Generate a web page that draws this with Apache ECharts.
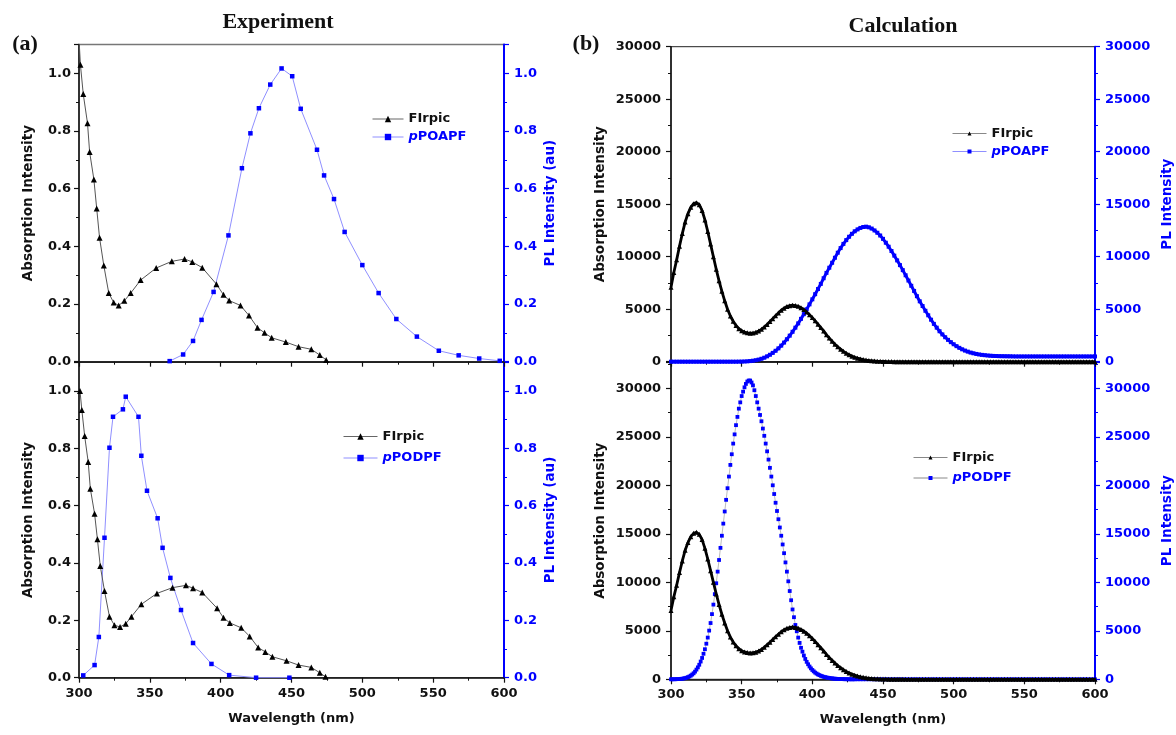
<!DOCTYPE html>
<html><head><meta charset="utf-8">
<script src="https://cdn.jsdelivr.net/npm/echarts@6/dist/echarts.min.js"></script>
<style>html,body{margin:0;padding:0;background:#fff}#c{width:1176px;height:735px}</style>
</head><body><div id="c"></div>
<script>
// ---------- (a) Experiment, top: FIrpic / pPOAPF ----------
const aTopFirWl = [300,301,303,306,307.5,310.5,312.5,314.5,317.5,321,324.5,328,332,336.5,343.5,354.5,365.5,374.5,380,387,397,402,406,414,420,426,431,436,446,455,464,470,474.5];
const aTopFirVal = [1.12,1.03,0.928,0.827,0.727,0.632,0.531,0.43,0.334,0.238,0.205,0.195,0.211,0.238,0.283,0.325,0.348,0.356,0.346,0.326,0.269,0.232,0.212,0.195,0.16,0.118,0.1,0.083,0.068,0.052,0.043,0.023,0.006];
const aTopPlWl = [364,373.5,380.5,386.5,395,405.5,415,421,427,435,443,450.5,456.5,468,473,480,487.5,500,511.5,524,538.5,554,568,582.5,597];
const aTopPlVal = [0.002,0.025,0.072,0.145,0.242,0.438,0.671,0.792,0.879,0.961,1.017,0.99,0.877,0.735,0.646,0.564,0.45,0.335,0.238,0.148,0.087,0.038,0.022,0.011,0.003];
// ---------- (a) Experiment, bottom: FIrpic / pPODPF ----------
const aBotFirWl = [300.7,302,304,306.5,308,311,313,315,318,321.5,325,329,333,337,344,355,366,375.5,380.5,387,397.5,402,406.5,414.5,420.5,426.5,431.5,436.5,446.5,455,464,470,474];
const aBotFirVal = [1.0,0.934,0.843,0.752,0.659,0.572,0.483,0.39,0.302,0.213,0.183,0.177,0.188,0.213,0.256,0.294,0.314,0.322,0.312,0.297,0.242,0.209,0.191,0.174,0.144,0.105,0.09,0.073,0.059,0.044,0.036,0.017,0.003];
const aBotPlWl = [303,311,314,318,321.5,324,331,333,342,344,348,355.5,359,364.5,372,380.5,393.5,406,425,448.5];
const aBotPlVal = [0.008,0.044,0.142,0.488,0.802,0.91,0.936,0.98,0.91,0.774,0.652,0.556,0.453,0.348,0.236,0.121,0.048,0.009,0.0,0.0];

// ---------- (b) Calculation: wavelength grid 300..600 nm, step 2 ----------
function range(a, b, s) { const r = []; for (let v = a; v <= b + 1e-9; v += s) r.push(v); return r; }
const calcWl = range(300, 600, 2);
const calcFirVal = [
 7100,8500,9700,11000,12200,13300,14100,14700,15050,15150,
 14950,14400,13500,12400,11200,10000,8800,7700,6700,5800,
 5000,4350,3850,3450,3150,2950,2820,2750,2720,2730,
 2800,2920,3080,3300,3550,3820,4100,4380,4650,4900,
 5100,5250,5340,5380,5350,5270,5140,4960,4740,4480,
 4200,3890,3570,3250,2930,2560,2250,1950,1670,1420,
 1190,990,810,660,530,425,335,262,203,155,
 118,88,66,49,36,26,19,14,10,7,
 5,
 4,3,2,2,1,1,1,1,0,0,
 0,0,0,0,0,0,0,0,0,0, 0,0,0,0,0,0,0,0,0,0, 0,0,0,0,0,0,0,0,0,0,
 0,0,0,0,0,0,0,0,0,0, 0,0,0,0,0,0,0,0,0,0, 0,0,0,0,0,0,0,0,0,0
];
const calcPoapfVal = [
 0,0,0,0,0,0,0,0,0,0, 0,0,0,0,0,0,0,0,0,0, 0,0,0,0,
 5,10,20,35,60,95,140,200,280,380,
 510,660,840,1040,1270,1530,1820,2140,2480,2850,
 3240,3650,4080,4530,4990,5460,5940,6430,6920,7410,
 7950,8460,8950,9420,9900,10380,10820,11220,11580,11900,
 12180,12420,12600,12740,12830,12860,12800,12680,12500,12280,
 12020,11700,11330,10950,10540,10100,9650,9200,8720,8230,
 7730,7230,6740,6240,5750,5300,4850,4420,4000,3600,
 3240,2900,2600,2330,2080,1860,1660,1480,1320,1180,
 1060,960,870,800,740,690,650,620,590,570,
 550,540,
 530,525,520,515,510,505,500,500,500,500, 500,500,500,500,500,500,500,500,500,500,
 500,500,500,500,500,500,500,500,500,500, 500,500,500,500,500
];
// pPODPF calc: 300..430 step 1, then 432..600 step 2
const podpfWl = range(300, 430, 1).concat(range(432, 600, 2));
const podpfVal = [
 0,2,5,8,15,20,30,45,60,90,
 120,165,220,290,380,490,620,790,1000,1230,
 1500,1830,2200,2630,3100,3670,4300,5020,5800,6720,
 7700,8780,9900,11100,12300,13550,14800,16050,17300,18500,
 19700,20900,22100,23200,24300,25250,26200,27050,27900,28550,
 29200,29650,30100,30450,30700,30800,30800,30600,30300,29800,
 29200,28550,27900,27250,26600,25850,25100,24300,23500,22650,
 21800,20900,20000,19100,18200,17350,16500,15650,14800,13900,
 13000,12050,11100,10100,9100,8150,7200,6400,5600,4950,
 4300,3750,3250,2850,2450,2100,1800,1550,1320,1130,
 960,820,690,590,500,430,360,310,260,220,
 190,160,130,110,90,75,60,50,40,32,
 25,20,15,11,8,6,4,3,2,1,
 0,
 0,0,0,0,0,0,0,0,0,0, 0,0,0,0,0,0,0,0,0,0, 0,0,0,0,0,0,0,0,0,0,
 0,0,0,0,0,0,0,0,0,0, 0,0,0,0,0,0,0,0,0,0, 0,0,0,0,0,0,0,0,0,0,
 0,0,0,0,0,0,0,0,0,0, 0,0,0,0,0,0,0,0,0,0, 0,0,0,0,0
];

const LABELS = {
  aTopFir:'FIrpic', aTopPl:'{ib|p}POAPF', aBotFir:'FIrpic', aBotPl:'{ib|p}PODPF',
  bTopFir:'FIrpic', bTopPl:'{ib|p}POAPF', bBotFir:'FIrpic', bBotPl:'{ib|p}PODPF'
};
const BLUE = '#0000ff';
const FONT = 'DejaVu Sans';

function zip(x, y) { return x.map((v, i) => [v, y[i]]); }

function xAx(grid, showLabels) {
  return {
    type:'value', gridIndex:grid, min:300, max:600, interval:50,
    axisLine:{show:true, onZero:false, lineStyle:{color:'#111', width:1.5}},
    axisTick:{show:true, length:5, lineStyle:{color:'#111', width:1.2}},
    minorTick:{show:true, splitNumber:2, length:3, lineStyle:{color:'#111', width:1}},
    splitLine:{show:false},
    axisLabel:{show:showLabels, margin:9, color:'#111', fontFamily:FONT, fontWeight:'bold', fontSize:13},
    name: showLabels ? 'Wavelength (nm)' : '', nameLocation:'middle', nameGap:34,
    nameTextStyle:{color:'#111', fontFamily:FONT, fontWeight:'bold', fontSize:13}
  };
}
function yAx(grid, pos, max, interval, color, name, gap, margin, fmt) {
  return {
    type:'value', gridIndex:grid, position:pos, min:0, max:max, interval:interval,
    axisLine:{show:true, onZero:false, lineStyle:{color:color, width: pos === 'right' ? 2 : 1.5}},
    axisTick:{show:true, length:5, lineStyle:{color:color, width:1.2}},
    minorTick:{show:true, splitNumber:2, length:3, lineStyle:{color:color, width:1}},
    splitLine:{show:false},
    axisLabel:{color:color, fontFamily:FONT, fontWeight:'bold', fontSize:13, margin:margin,
               formatter:fmt, showMaxLabel: (Math.abs(max / interval - Math.round(max / interval)) < 1e-6)},
    name:name, nameLocation:'middle', nameGap:gap,
    nameTextStyle:{color:color, fontFamily:FONT, fontWeight:'bold', fontSize:13.5}
  };
}
const f1 = v => v.toFixed(1);
const f0 = v => String(Math.round(v));

function legend(left, top, gap, iw, ih, names, lineCols) {
  return {
    orient:'vertical', left:left, top:top, itemGap:gap, itemWidth:iw, itemHeight:ih,
    selectedMode:false, padding:0,
    formatter: n => LABELS[n],
    textStyle:{fontFamily:FONT, fontWeight:'bold', fontSize:13,
      rich:{ib:{fontFamily:FONT, fontWeight:'bold', fontStyle:'italic', fontSize:13, color:BLUE}}},
    data:[
      {name:names[0], textStyle:{color:'#111'}, itemStyle:{color:'#000'}, lineStyle:{color:lineCols[0], width:1}},
      {name:names[1], textStyle:{color:BLUE}, itemStyle:{color:BLUE}, lineStyle:{color:lineCols[1], width:1}}
    ]
  };
}

const common = {type:'line', silent:true, clip:true, emphasis:{disabled:true}, animation:false};

const option = {
  animation:false,
  backgroundColor:'#fff',
  grid:[
    {left:79, top:44.5, width:425, height:317.2, show:true, borderColor:'#777', borderWidth:1.5, backgroundColor:'transparent'},
    {left:79, top:362.3, width:425, height:315.4, show:true, borderColor:'#555', borderWidth:1.2, backgroundColor:'transparent'},
    {left:671, top:46.7, width:424, height:315, show:true, borderColor:'#222', borderWidth:1, backgroundColor:'transparent'},
    {left:671, top:362.1, width:424, height:317.2, show:true, borderColor:'#222', borderWidth:1, backgroundColor:'transparent'}
  ],
  xAxis:[ xAx(0,false), xAx(1,true), xAx(2,false), xAx(3,true) ],
  yAxis:[
    yAx(0,'left',1.1,0.2,'#111','Absorption Intensity',44,8,f1),
    yAx(0,'right',1.1,0.2,BLUE,'PL Intensity (au)',39,10,f1),
    yAx(1,'left',1.1,0.2,'#111','Absorption Intensity',44,8,f1),
    yAx(1,'right',1.1,0.2,BLUE,'PL Intensity (au)',39,10,f1),
    yAx(2,'left',30000,5000,'#111','Absorption Intensity',64,10,f0),
    yAx(2,'right',30000,5000,BLUE,'PL Intensity',65,10,f0),
    yAx(3,'left',32700,5000,'#111','Absorption Intensity',64,10,f0),
    yAx(3,'right',32700,5000,BLUE,'PL Intensity',65,10,f0)
  ],
  legend:[
    legend(372, 112.5, 5, 31, 8, ['aTopFir','aTopPl'], ['#666','#8f8fff']),
    legend(343, 430, 8.5, 34, 8, ['aBotFir','aBotPl'], ['#666','#8f8fff']),
    legend(952, 127, 5, 34, 5, ['bTopFir','bTopPl'], ['#888','#8f8fff']),
    legend(913, 451, 7.5, 34, 5, ['bBotFir','bBotPl'], ['#888','#888'])
  ],
  graphic:[
    {type:'text', x:278, y:22, silent:true, style:{text:'Experiment', font:'bold 22px "Liberation Serif"', fill:'#111', align:'center', verticalAlign:'middle'}},
    {type:'text', x:903, y:26, silent:true, style:{text:'Calculation', font:'bold 22px "Liberation Serif"', fill:'#111', align:'center', verticalAlign:'middle'}},
    {type:'text', x:25, y:44, silent:true, style:{text:'(a)', font:'bold 22px "Liberation Serif"', fill:'#111', align:'center', verticalAlign:'middle'}},
    {type:'text', x:586, y:44, silent:true, style:{text:'(b)', font:'bold 22px "Liberation Serif"', fill:'#111', align:'center', verticalAlign:'middle'}}
  ],
  series:[
    Object.assign({}, common, {name:'aTopFir', xAxisIndex:0, yAxisIndex:0, data:zip(aTopFirWl,aTopFirVal),
      symbol:'triangle', symbolSize:6, itemStyle:{color:'#000'}, lineStyle:{color:'#555', width:1}, z:3}),
    Object.assign({}, common, {name:'aTopPl', xAxisIndex:0, yAxisIndex:1, data:zip(aTopPlWl,aTopPlVal),
      symbol:'rect', symbolSize:4.5, itemStyle:{color:BLUE}, lineStyle:{color:'#8f8fff', width:1}, z:2}),
    Object.assign({}, common, {name:'aBotFir', xAxisIndex:1, yAxisIndex:2, data:zip(aBotFirWl,aBotFirVal),
      symbol:'triangle', symbolSize:6, itemStyle:{color:'#000'}, lineStyle:{color:'#555', width:1}, z:3}),
    Object.assign({}, common, {name:'aBotPl', xAxisIndex:1, yAxisIndex:3, data:zip(aBotPlWl,aBotPlVal),
      symbol:'rect', symbolSize:4.5, itemStyle:{color:BLUE}, lineStyle:{color:'#8f8fff', width:1}, z:2}),
    Object.assign({}, common, {name:'bTopFir', xAxisIndex:2, yAxisIndex:4, data:zip(calcWl,calcFirVal),
      symbol:'triangle', symbolSize:5, itemStyle:{color:'#000'}, lineStyle:{color:'#000', width:2.8}, z:3}),
    Object.assign({}, common, {name:'bTopPl', xAxisIndex:2, yAxisIndex:5, data:zip(calcWl,calcPoapfVal),
      symbol:'rect', symbolSize:4, itemStyle:{color:BLUE}, lineStyle:{color:BLUE, width:3}, z:2}),
    Object.assign({}, common, {name:'bBotFir', xAxisIndex:3, yAxisIndex:6, data:zip(calcWl,calcFirVal),
      symbol:'triangle', symbolSize:5, itemStyle:{color:'#000'}, lineStyle:{color:'#000', width:2.8}, z:3}),
    Object.assign({}, common, {name:'bBotPl', xAxisIndex:3, yAxisIndex:7, data:zip(podpfWl,podpfVal),
      symbol:'rect', symbolSize:3.8, itemStyle:{color:BLUE}, lineStyle:{color:'#aaa', width:0.8}, z:2})
  ]
};
const chart = echarts.init(document.getElementById('c'), null, {renderer:'canvas'});
chart.setOption(option);
</script></body></html>
